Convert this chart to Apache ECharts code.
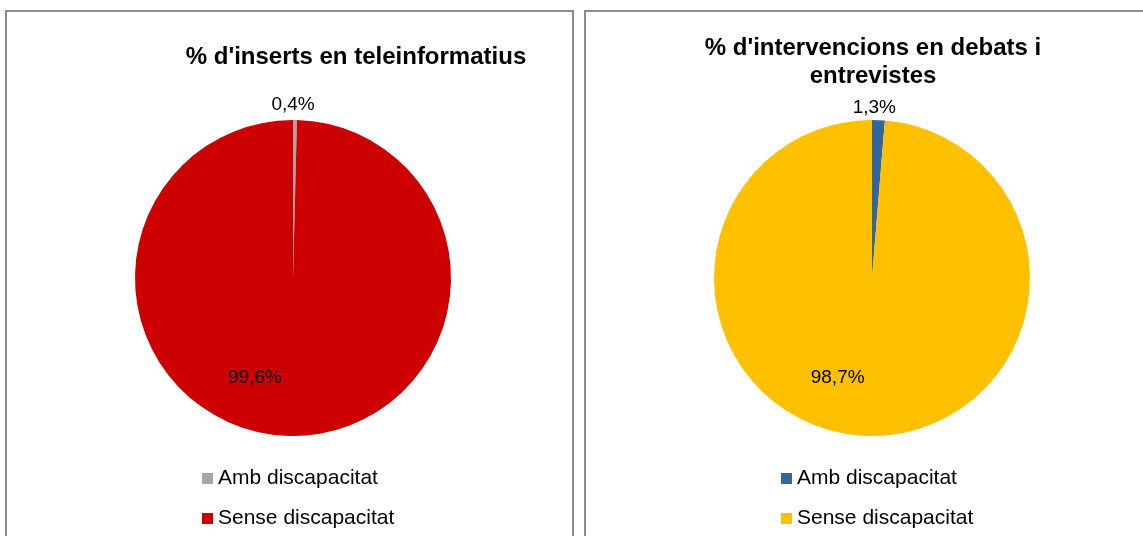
<!DOCTYPE html>
<html>
<head>
<meta charset="utf-8">
<script src="https://cdn.jsdelivr.net/npm/echarts@6/dist/echarts.min.js"></script>
<style>
  html, body { margin: 0; padding: 0; background: #fff; }
  #wrap { position: relative; width: 1143px; height: 536px; overflow: hidden; }
  .chart { position: absolute; top: 0; height: 536px; }
  #left { left: 0; width: 579px; }
  #right { left: 579px; width: 564px; }
</style>
</head>
<body>
<div id="wrap">
  <div class="chart" id="left"></div>
  <div class="chart" id="right"></div>
</div>
<script>
  // categories and values
  const categories = ['Amb discapacitat', 'Sense discapacitat']
  const insertsValues = [0.4, 99.6]
  const debatsValues = [1.3, 98.7]
  const titles = ["% d'inserts en teleinformatius", "% d'intervencions en debats i\nentrevistes"]

  const font = '"Liberation Sans", Arial, sans-serif'

  function buildOption(title, titleLeft, titleTop, values, colors, offsets) {
    return {
      animation: false,
      title: {
        text: title,
        left: titleLeft,
        top: titleTop,
        textAlign: 'center',
        textStyle: {
          fontFamily: font,
          fontSize: 24,
          fontWeight: 'bold',
          color: '#000',
          lineHeight: 28
        }
      },
      graphic: [{
        type: 'rect',
        shape: { x: 6, y: 11, width: 567, height: 600 },
        style: { fill: 'none', stroke: '#8c8c8c', lineWidth: 2 },
        silent: true
      }],
      legend: {
        orient: 'vertical',
        left: 202,
        top: 468,
        padding: 0,
        height: 80,
        icon: 'rect',
        itemWidth: 11,
        itemHeight: 11,
        itemGap: 19,
        selectedMode: false,
        textStyle: { fontFamily: font, fontSize: 21, color: '#000' },
        data: categories
      },
      series: [{
        type: 'pie',
        center: [293, 278],
        radius: 158,
        startAngle: 90,
        clockwise: true,
        silent: true,
        label: {
          show: true,
          position: 'inside',
          fontFamily: font,
          fontSize: 19,
          color: '#000',
          formatter: p => String(p.value).replace('.', ',') + '%'
        },
        labelLine: { show: false },
        data: categories.map((name, i) => ({
          name: name,
          value: values[i],
          itemStyle: { color: colors[i] },
          label: { offset: offsets[i] }
        }))
      }]
    }
  }

  const left = echarts.init(document.getElementById('left'))
  left.setOption(buildOption(titles[0], 351, 38, insertsValues, ['#a6a6a6', '#cc0000'], [[-1, -91], [-37, 18]]))

  const right = echarts.init(document.getElementById('right'))
  right.setOption(buildOption(titles[1], 289, 29, debatsValues, ['#36659c', '#ffc000'], [[-1, -88], [-31, 18]]))
  right.setOption({ graphic: [{ shape: { x: 6, y: 11, width: 700, height: 600 } }] })

  window.addEventListener('resize', () => {
    left.resize()
    right.resize()
  })
</script>
</body>
</html>
